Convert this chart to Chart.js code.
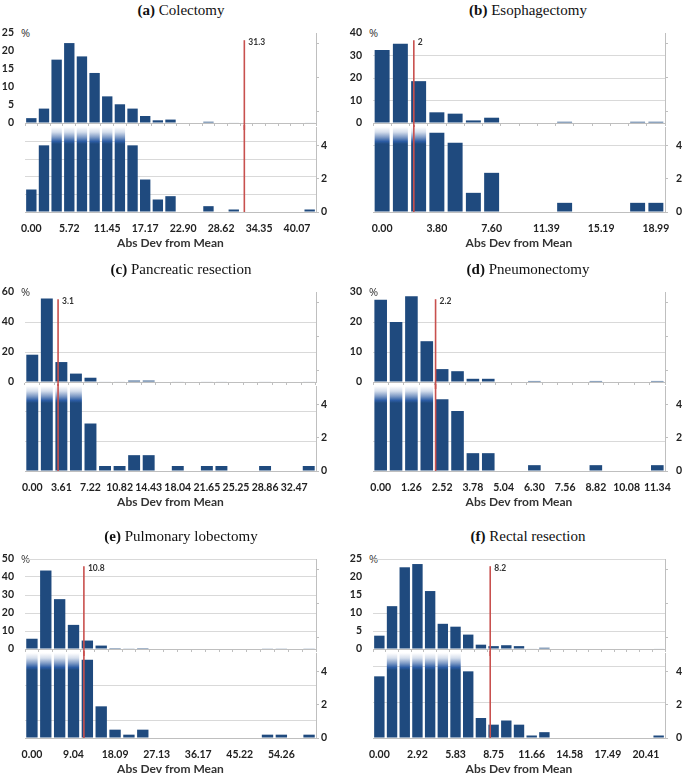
<!DOCTYPE html>
<html>
<head>
<meta charset="utf-8">
<script src="https://cdn.jsdelivr.net/npm/chart.js@4.4.1/dist/chart.umd.min.js"></script>
<style>
  html, body { margin: 0; padding: 0; background: #fff; }
  #page { position: relative; width: 685px; height: 781px; overflow: hidden; }
  #page canvas { position: absolute; }
  .ttl { position: absolute; font: 15px "Liberation Serif", "Times New Roman", serif; color: #111;
         white-space: nowrap; transform: translate(-50%, -50%); line-height: 18px; }
  .pct { position: absolute; font: 11px "Open Sans", sans-serif; color: #333; line-height: 12px; }
</style>
</head>
<body>
<div id="page"></div>
<script>
// Histograms of absolute deviation from mean, six procedures
// top part = full % scale, bottom part = zoom on 0-5 %

// ---- data ----
var valuesA = [1.35, 4.0, 17.6, 22.2, 18.5, 13.9, 7.4, 5.2, 4.0, 1.95, 0.75, 0.95, 0, 0, 0.35, 0, 0.15, 0, 0, 0, 0, 0, 0.15];
var valuesB = [32.5, 35.2, 18.6, 4.75, 4.15, 1.15, 2.35, 0, 0, 0, 0.55, 0, 0, 0, 0.55, 0.55];
var valuesC = [18.2, 55.6, 13.3, 5.6, 2.85, 0.3, 0.3, 0.95, 0.95, 0, 0.3, 0, 0.3, 0.3, 0, 0, 0.3, 0, 0, 0.3];
var valuesD = [27.4, 20.0, 28.6, 13.6, 4.3, 3.6, 1.07, 1.07, 0, 0, 0.35, 0, 0, 0, 0.35, 0, 0, 0, 0.35];
var valuesE = [5.7, 43.6, 27.7, 13.4, 4.7, 1.9, 0.5, 0.2, 0.5, 0, 0, 0, 0, 0, 0, 0, 0, 0.2, 0.2, 0, 0.2];
var valuesF = [3.7, 11.9, 22.7, 23.6, 16.1, 7.0, 6.2, 4.0, 1.2, 0.8, 1.05, 0.8, 0.15, 0.35, 0, 0, 0, 0, 0, 0, 0, 0, 0.15];

// x tick labels (one every `every` bins)
var labelsA = ['0.00', '5.72', '11.45', '17.17', '22.90', '28.62', '34.35', '40.07'];
var labelsB = ['0.00', '3.80', '7.60', '11.39', '15.19', '18.99'];
var labelsC = ['0.00', '3.61', '7.22', '10.82', '14.43', '18.04', '21.65', '25.25', '28.86', '32.47'];
var labelsD = ['0.00', '1.26', '2.52', '3.78', '5.04', '6.30', '7.56', '8.82', '10.08', '11.34'];
var labelsE = ['0.00', '9.04', '18.09', '27.13', '36.17', '45.22', '54.26'];
var labelsF = ['0.00', '2.92', '5.83', '8.75', '11.66', '14.58', '17.49', '20.41'];

// gridlines shown in the top (%) part
var gridTopA = [];
var gridTopB = [10, 20, 30];
var gridTopC = [20, 40];
var gridTopD = [10, 20];
var gridTopE = [10, 20, 30, 40, 50];
var gridTopF = [5, 10, 25];

// gridlines shown in the bottom (zoom) part
var gridBotA = [1.06, 2.1, 3.16, 4.2];
var gridBotB = [4.0];
var gridBotC = [1.75, 3.55];
var gridBotD = [1.75];
var gridBotE = [1.03, 3.14];
var gridBotF = [2.1, 4.3];

// red marker: position on the x axis and its label
var markPos = [32.1, 2.2, 3.2, 2.25, 11.3, 8.5];
var markText = ['31.3', '2', '3.1', '2.2', '10.8', '8.2'];

var zoomTicks = [0, 2, 4];       // bottom right axis labels
var minorRightTicks = [0, 1, 2];  // unlabeled ticks on the top right axis
var ZOOM_MAX = 5.1;

var panels = [
  { tag: '(a)', name: 'Colectomy', values: valuesA, labels: labelsA, every: 3, max: 25, step: 5, gTop: gridTopA, gBot: gridBotA },
  { tag: '(b)', name: 'Esophagectomy', values: valuesB, labels: labelsB, every: 3, max: 40, step: 10, gTop: gridTopB, gBot: gridBotB },
  { tag: '(c)', name: 'Pancreatic resection', values: valuesC, labels: labelsC, every: 2, max: 60, step: 20, gTop: gridTopC, gBot: gridBotC },
  { tag: '(d)', name: 'Pneumonectomy', values: valuesD, labels: labelsD, every: 2, max: 30, step: 10, gTop: gridTopD, gBot: gridBotD },
  { tag: '(e)', name: 'Pulmonary lobectomy', values: valuesE, labels: labelsE, every: 3, max: 50, step: 10, gTop: gridTopE, gBot: gridBotE },
  { tag: '(f)', name: 'Rectal resection', values: valuesF, labels: labelsF, every: 3, max: 25, step: 5, gTop: gridTopF, gBot: gridBotF }
];

// ---- look ----
var BAR = '#1F4A7E';
var RED = '#C8504E';
var GRID = '#D9D9D9';
var AXIS = '#BFBFBF';
var TXT = '#222';
var TICK_FONT = { family: 'Lato, "Open Sans", sans-serif', size: 10.5, weight: 'bold' };
var TITLE_FONT = { family: 'Lato, "Open Sans", sans-serif', size: 12, weight: 'bold' };

var COLS = [
  { x: 0, w: 340, left: 25, right: 316, titleX: 181, pctX: 21, labelPad: 2 },
  { x: 340, w: 345, left: 373, right: 665, titleX: 528, pctX: 369, labelPad: 8 }
];
var ROWS = [33, 292, 559];
var TOP_H = 90, GAP = 4, BOT_H = 85;

var page = document.getElementById('page');

function categoryLabels(p) {
  return p.values.map(function (v, i) {
    return i % p.every === 0 ? (p.labels[i / p.every] || '') : '';
  });
}

function binWidth(p) {
  return parseFloat(p.labels[1]) / p.every;
}

function fixedTicks(list) {
  return function (s) { s.ticks = list.map(function (v) { return { value: v }; }); };
}

function markPlugin(idx, p, isTop) {
  return {
    id: 'mark' + (isTop ? 'Top' : 'Bot'),
    afterDatasetsDraw: function (chart) {
      var a = chart.chartArea, g = chart.ctx;
      var x = chart.scales.x.getPixelForValue(markPos[idx] / binWidth(p));
      var y0 = isTop ? a.top + (a.bottom - a.top) * 0.08 : 0;
      var y1 = isTop ? chart.height : a.bottom;
      g.save();
      g.strokeStyle = RED;
      g.lineWidth = 1.6;
      g.beginPath();
      g.moveTo(x, y0);
      g.lineTo(x, y1);
      g.stroke();
      if (isTop) {
        g.fillStyle = '#333';
        g.font = 'bold 8.5px Lato, sans-serif';
        g.textBaseline = 'middle';
        g.fillText(markText[idx], x + 4, y0 + 2);
      }
      g.restore();
    }
  };
}

// bars that run past the zoom top fade out to white
function zoomFill(ctx) {
  var area = ctx.chart.chartArea;
  if (!area || ctx.raw <= ZOOM_MAX) return BAR;
  var grad = ctx.chart.ctx.createLinearGradient(0, area.top, 0, area.top + 17);
  grad.addColorStop(0, '#ffffff');
  grad.addColorStop(0.3, '#d5deec');
  grad.addColorStop(0.6, '#7f9bc6');
  grad.addColorStop(0.85, '#2c5ca3');
  grad.addColorStop(1, BAR);
  return grad;
}

function makeCanvas(x, y, w, h) {
  var c = document.createElement('canvas');
  c.width = w; c.height = h;
  c.style.left = x + 'px';
  c.style.top = y + 'px';
  page.appendChild(c);
  return c;
}

function renderTop(idx, p, col, topY) {
  var padTop = 13, axisH = 7;
  var c = makeCanvas(col.x, topY - padTop, col.w, padTop + TOP_H + axisH);
  new Chart(c, {
    type: 'bar',
    data: {
      labels: categoryLabels(p),
      datasets: [{ data: p.values, backgroundColor: BAR, barPercentage: 0.82, categoryPercentage: 1 }]
    },
    options: {
      responsive: false,
      animation: false,
      layout: { padding: { top: padTop, left: 0, right: 0, bottom: 0 } },
      plugins: { legend: { display: false }, tooltip: { enabled: false } },
      scales: {
        x: {
          offset: true,
          ticks: { display: false },
          grid: { offset: true, drawOnChartArea: false, drawTicks: true, tickLength: 3, color: AXIS },
          border: { color: AXIS },
          afterFit: function (s) { s.height = axisH; s.paddingLeft = 0; s.paddingRight = 0; }
        },
        y: {
          position: 'left',
          min: 0,
          max: p.max,
          ticks: { stepSize: p.step, padding: 11, color: TXT, font: TICK_FONT },
          grid: {
            drawTicks: false,
            color: function (ctx) { return p.gTop.indexOf(ctx.tick.value) >= 0 ? GRID : 'rgba(0,0,0,0)'; }
          },
          border: { display: false },
          afterFit: function (s) { s.width = col.left - col.x; s.paddingTop = 0; s.paddingBottom = 0; }
        },
        yR: {
          position: 'right',
          min: -0.35,
          max: 2.3,
          afterBuildTicks: fixedTicks(minorRightTicks),
          ticks: { display: false },
          grid: { drawOnChartArea: false, tickLength: 3, color: AXIS },
          border: { color: AXIS },
          afterFit: function (s) { s.width = col.x + col.w - col.right; s.paddingTop = 0; s.paddingBottom = 0; }
        }
      }
    },
    plugins: [markPlugin(idx, p, true)]
  });
}

function renderBottom(idx, p, col, topY) {
  var padTop = 2, axisH = 38;
  var c = makeCanvas(col.x, topY + TOP_H + GAP - padTop, col.w, padTop + BOT_H + axisH);
  new Chart(c, {
    type: 'bar',
    data: {
      labels: categoryLabels(p),
      datasets: [{ data: p.values, backgroundColor: zoomFill, barPercentage: 0.82, categoryPercentage: 1, yAxisID: 'y' }]
    },
    options: {
      responsive: false,
      animation: false,
      layout: { padding: { top: padTop, left: 0, right: 0, bottom: 0 } },
      plugins: { legend: { display: false }, tooltip: { enabled: false } },
      scales: {
        x: {
          offset: true,
          ticks: { autoSkip: false, maxRotation: 0, padding: 10, color: TXT, font: TICK_FONT },
          grid: { display: false, drawTicks: false },
          border: { color: AXIS },
          title: { display: true, text: 'Abs Dev from Mean', color: '#333', font: TITLE_FONT, padding: 0 },
          afterFit: function (s) { s.height = axisH; s.paddingLeft = 0; s.paddingRight = 0; }
        },
        yG: {
          position: 'left',
          min: 0,
          max: ZOOM_MAX,
          afterBuildTicks: fixedTicks(p.gBot),
          ticks: { display: false },
          grid: { drawTicks: false, color: GRID },
          border: { display: false },
          afterFit: function (s) { s.width = col.left - col.x; s.paddingTop = 0; s.paddingBottom = 0; }
        },
        y: {
          position: 'right',
          min: 0,
          max: ZOOM_MAX,
          afterBuildTicks: fixedTicks(zoomTicks),
          ticks: { padding: col.labelPad, color: TXT, font: TICK_FONT },
          grid: { drawOnChartArea: false, tickLength: 3, color: AXIS },
          border: { color: AXIS },
          afterFit: function (s) { s.width = col.x + col.w - col.right; s.paddingTop = 0; s.paddingBottom = 0; }
        }
      }
    },
    plugins: [markPlugin(idx, p, false)]
  });
}

panels.forEach(function (p, i) {
  var col = COLS[i % 2];
  var topY = ROWS[Math.floor(i / 2)];

  var t = document.createElement('div');
  t.className = 'ttl';
  t.style.left = col.titleX + 'px';
  t.style.top = (topY - 23) + 'px';
  t.innerHTML = '<b>' + p.tag + '</b> ' + p.name;
  page.appendChild(t);

  var pct = document.createElement('div');
  pct.className = 'pct';
  pct.style.left = col.pctX + 'px';
  pct.style.top = (topY - 6) + 'px';
  pct.textContent = '%';
  page.appendChild(pct);

  renderTop(i, p, col, topY);
  renderBottom(i, p, col, topY);
});
</script>
</body>
</html>
